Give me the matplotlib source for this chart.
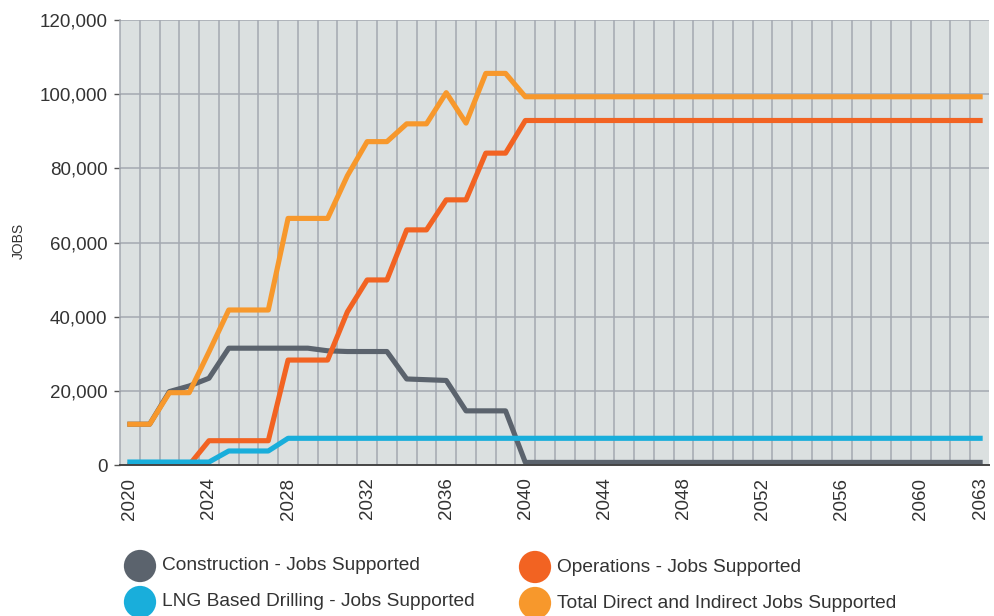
import matplotlib.pyplot as plt
from matplotlib.ticker import FuncFormatter

plt.rcParams['font.family'] = ['Liberation Sans', 'DejaVu Sans']

years = list(range(2020, 2064))

construction = [11000, 11000, 19800, 21300, 23400, 31500, 31500, 31500, 31500, 31500,
                30800, 30600, 30600, 30600, 23200, 23000, 22800, 14600, 14600, 14600,
                700, 700, 700, 700, 700, 700, 700, 700, 700, 700, 700, 700,
                700, 700, 700, 700, 700, 700, 700, 700, 700, 700, 700, 700]
operations = [0, 0, 0, 0, 6550, 6550, 6550, 6550, 28300, 28300,
              28300, 41300, 49900, 49900, 63400, 63400, 71500, 71500, 84100, 84100,
              92900, 92900, 92900, 92900, 92900, 92900, 92900, 92900, 92900, 92900, 92900, 92900,
              92900, 92900, 92900, 92900, 92900, 92900, 92900, 92900, 92900, 92900, 92900, 92900]
drilling = [800, 800, 800, 800, 800, 3780, 3780, 3780, 7200, 7200,
            7200, 7200, 7200, 7200, 7200, 7200, 7200, 7200, 7200, 7200,
            7200, 7200, 7200, 7200, 7200, 7200, 7200, 7200, 7200, 7200, 7200, 7200,
            7200, 7200, 7200, 7200, 7200, 7200, 7200, 7200, 7200, 7200, 7200, 7200]
total = [11000, 11000, 19500, 19500, 30500, 41800, 41800, 41800, 66500, 66500,
         66500, 78000, 87200, 87200, 92000, 92000, 100400, 92200, 105600, 105600,
         99300, 99300, 99300, 99300, 99300, 99300, 99300, 99300, 99300, 99300, 99300, 99300,
         99300, 99300, 99300, 99300, 99300, 99300, 99300, 99300, 99300, 99300, 99300, 99300]

series_names = ["Construction - Jobs Supported", "LNG Based Drilling - Jobs Supported",
                "Operations - Jobs Supported", "Total Direct and Indirect Jobs Supported"]
tick_years = [2020, 2024, 2028, 2032, 2036, 2040, 2044, 2048, 2052, 2056, 2060, 2063]
y_ticks = [0, 20000, 40000, 60000, 80000, 100000, 120000]

c_constr = "#5b636d"
c_ops = "#f26322"
c_drill = "#19aedb"
c_total = "#f7982c"
grid_c = "#a4a9b1"
text_c = "#333333"

fig = plt.figure(figsize=(9.95, 6.16), dpi=100)
ax = fig.add_axes([120 / 995, 1 - 465 / 616, 869 / 995, 445 / 616])
ax.set_facecolor("#dbe0e0")

# vertical grid at the year boundaries, horizontal grid at every tick
for yr in years[:-1]:
    ax.axvline(yr + 0.5, color=grid_c, lw=1.1, zorder=1)
for v in y_ticks[1:]:
    ax.axhline(v, color=grid_c, lw=1.1, zorder=1)

lw = 3.7
ax.plot(years, construction, color=c_constr, lw=lw, zorder=3)
ax.plot(years, operations, color=c_ops, lw=lw, zorder=4)
ax.plot(years, drilling, color=c_drill, lw=lw, zorder=5)
ax.plot(years, total, color=c_total, lw=lw, zorder=6)

ax.set_xlim(2019.5, 2063.45)
ax.set_ylim(0, 120000)
ax.set_xticks(tick_years)
ax.set_xticklabels([str(t) for t in tick_years], rotation=90, fontsize=13.5, color=text_c)
ax.set_yticks(y_ticks)
ax.yaxis.set_major_formatter(FuncFormatter(lambda v, p: f"{int(v):,}"))
ax.tick_params(axis='y', labelsize=13.5, labelcolor=text_c, length=4, width=1,
               color="#555555", pad=5)
ax.tick_params(axis='x', length=0, pad=9)
ax.set_ylabel("JOBS", fontsize=10, color=text_c)
ax.yaxis.set_label_coords(-0.108, 0.503)

for side in ["top", "right"]:
    ax.spines[side].set_visible(False)
ax.spines["left"].set_color(grid_c)
ax.spines["left"].set_linewidth(1.1)
ax.spines["bottom"].set_color("#444444")
ax.spines["bottom"].set_linewidth(1.4)
ax.spines["bottom"].set_zorder(7)

# legend laid out in pixel space below the plot
leg = fig.add_axes([0, 0, 1, 1], facecolor="none")
leg.set_xlim(0, 995)
leg.set_ylim(616, 0)
leg.axis("off")
leg_colors = [c_constr, c_drill, c_ops, c_total]
leg_x = [140, 140, 535, 535]
leg_y = [566, 602, 567, 603]
for name, col, lx, ly in zip(series_names, leg_colors, leg_x, leg_y):
    leg.scatter([lx], [ly], s=540, color=col, edgecolors="none")
    leg.text(lx + 22, ly, name, fontsize=13.8, color=text_c, va="center", ha="left")

fig.savefig("out.png", dpi=100)
